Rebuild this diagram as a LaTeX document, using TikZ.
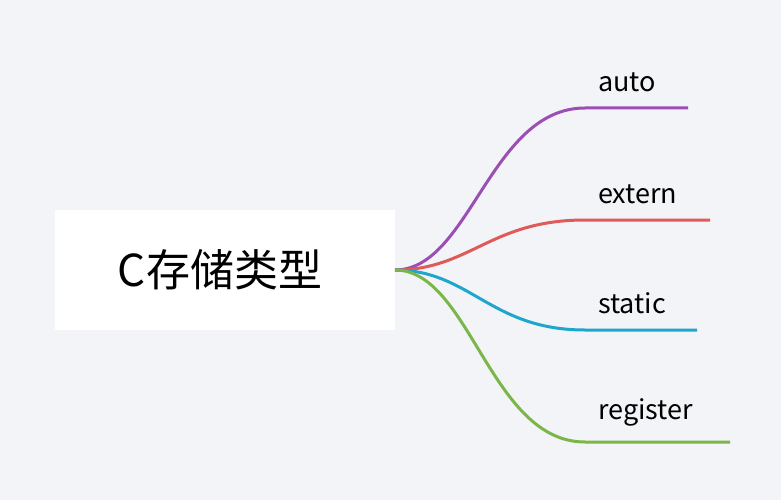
\documentclass[tikz,border=0pt]{standalone}
\usepackage{fontspec}
\setmainfont{Noto Sans CJK SC}
\definecolor{bgcol}{HTML}{F3F4F8}
\definecolor{cpurple}{HTML}{9B4FB5}
\definecolor{cred}{HTML}{E05A5A}
\definecolor{cblue}{HTML}{1FA6CC}
\definecolor{cgreen}{HTML}{7AB648}
\tikzset{
  branch/.style={line width=3pt},
  leaf/.style={anchor=south west,inner sep=0pt,font=\fontsize{27}{30}\selectfont}
}
\begin{document}
\begin{tikzpicture}[x=1pt,y=-1pt]
  \useasboundingbox[fill=bgcol] (0,0) rectangle (781,500);
  \fill[white] (55,210) rectangle (395,330);
  \node[font=\fontsize{44}{50}\selectfont] (root) at (220,270) {C存储类型};
  \coordinate (hub) at (395,270);
  % branches: name/end y/end x/colour
  \foreach \nm/\yy/\xe/\cc in {auto/108/688/cpurple,extern/220/710/cred,static/330/697/cblue,register/442/730/cgreen}{
    \coordinate (\nm s) at (585,\yy);
    \coordinate (\nm e) at (\xe,\yy);
    \draw[branch,\cc] (hub) .. controls (470,270) and (490,\yy) .. (\nm s) -- (\nm e);
    \node[leaf] (\nm) at (598,\yy-16) {\nm};
  }
\end{tikzpicture}
\end{document}
